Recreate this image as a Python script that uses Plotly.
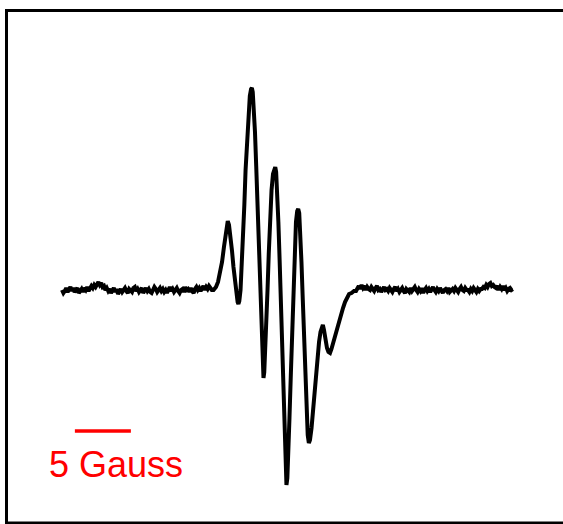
import numpy as np
import plotly.graph_objects as go

# EPR derivative spectrum, field given as offset in gauss, signal in arbitrary units

# flat, noisy baseline on the low-field side (0.125 G sampling)
left_field = np.arange(0.0, 13.38, 0.125)
left_signal = [
    0.5, -1.0, 0.0, 1.5, -0.5, 1.0, 2.0, 0.0, 1.5, -0.5,
    0.5, 1.5, -1.0, 0.0, 1.0, -0.5, 1.5, 0.5, 2.0, 0.0,
    1.0, 2.5, 1.5, 3.0, 2.0, 3.5, 4.5, 3.0, 4.0, 2.0,
    2.5, 0.5, 1.5, 0.0, 1.0, -1.0, 0.5, 1.5, -0.5, 1.0,
    -1.5, 0.0, 1.0, -0.5, 0.5, 1.5, 0.0, -1.0, 1.0, 0.5,
    -0.5, 1.5, 2.0, 0.0, 1.0, -0.5, 0.5, 1.5, -1.0, 0.0,
    1.5, 0.0, 1.0, -0.5, -1.0, 0.5, 2.0, 1.0, -0.5, 0.5,
    1.5, 0.0, 1.0, -0.5, 0.5, -1.0, 1.0, 2.0, 0.0, 1.0,
    -0.5, 0.5, 1.5, 0.0, -1.0, 0.5, 1.0, -0.5, 2.0, 0.5,
    1.0, -0.5, 1.5, 0.0, -1.0, 1.0, 2.0, 0.5, 1.5, 0.0,
    1.5, 2.5, 0.5, 2.0, 1.0, 2.5, 1.5, 0.5,
]

# hyperfine pattern
center_field = [
    13.53, 13.75, 13.93, 14.11, 14.29, 14.46, 14.60, 14.71, 14.80, 14.91,
    15.04, 15.18, 15.31, 15.45, 15.58, 15.68, 15.75, 15.83, 15.94, 16.05,
    16.16, 16.28, 16.39, 16.52, 16.64, 16.77, 16.88, 16.95, 17.03, 17.12,
    17.23, 17.34, 17.45, 17.55, 17.66, 17.77, 17.86, 17.93, 17.99, 18.06,
    18.14, 18.24, 18.35, 18.46, 18.59, 18.71, 18.84, 18.96, 19.04, 19.12,
    19.21, 19.32, 19.43, 19.54, 19.64, 19.75, 19.85, 19.92, 19.98, 20.04,
    20.12, 20.21, 20.31, 20.43, 20.54, 20.66, 20.78, 20.89, 21.00, 21.09,
    21.18, 21.28, 21.38, 21.50, 21.62, 21.73, 21.84, 21.94, 22.04, 22.14,
    22.28, 22.41, 22.54, 22.68, 22.81, 22.95, 23.08, 23.19, 23.29, 23.39,
    23.53, 23.66, 23.79, 23.93, 24.06, 24.20, 24.38, 24.55, 24.73, 24.91,
    25.09, 25.27, 25.45, 25.63, 25.85, 26.07,
]
center_signal = [
    0.5, 2.0, 4.5, 8.5, 14.5, 22.0, 29.0, 33.5, 35.0, 33.0,
    27.5, 20.0, 12.0, 4.0, -2.5, -5.5, -6.5, -5.0, 0.5, 11.5,
    25.5, 43.0, 60.5, 77.0, 89.5, 97.5, 101.0, 101.5, 99.5, 92.5,
    79.5, 62.5, 43.0, 23.0, 3.0, -15.5, -30.5, -40.0, -43.5, -40.5,
    -31.5, -17.0, 0.5, 18.5, 36.5, 50.5, 58.5, 61.5, 62.0, 59.5,
    50.5, 34.5, 15.5, -4.5, -25.5, -47.0, -68.5, -85.5, -94.5, -97.0,
    -93.5, -82.0, -63.5, -42.0, -19.5, 3.0, 21.5, 34.5, 40.0, 41.0,
    39.0, 30.5, 14.5, -4.5, -24.5, -44.5, -61.5, -72.0, -76.0, -74.5,
    -68.5, -59.5, -50.5, -41.5, -33.0, -25.5, -20.5, -17.5, -17.0, -19.5,
    -24.5, -28.5, -30.5, -31.0, -29.0, -26.0, -22.0, -18.5, -15.0, -11.5,
    -8.5, -5.5, -3.0, -1.5, -1.0, 0.0,
]

# flat, noisy baseline on the high-field side
right_field = np.arange(26.25, 40.26, 0.125)
right_signal = [
    0.0, 1.5, 2.5, 1.0, 3.0, 1.5, 2.5, 0.5, 2.0, 1.0,
    0.5, 2.0, 1.0, 0.0, 1.5, 2.5, 0.5, 1.0, -0.5, 1.5,
    2.0, 0.5, 1.0, 0.0, 1.5, 0.5, -0.5, 1.0, 2.0, 0.0,
    1.0, -0.5, 0.5, 1.5, 0.0, -1.0, 1.0, 0.5, -0.5, 1.5,
    0.0, 1.0, 2.0, 0.5, -0.5, 1.0, 0.0, 1.5, -1.0, 0.5,
    1.5, 0.0, 1.0, -0.5, 0.5, 2.0, 0.5, -0.5, 1.0, 0.0,
    1.5, 0.5, -1.0, 0.5, 1.0, 0.0, 1.5, -0.5, 0.5, 1.0,
    0.0, 1.5, 0.5, -0.5, 1.0, 2.0, 0.5, 0.0, 1.5, 0.5,
    0.5, -0.5, 1.0, 0.0, 1.5, 0.5, -0.5, 1.0, 0.0, 1.0,
    1.0, 2.0, 1.5, 3.0, 2.0, 3.5, 4.0, 2.5, 3.0, 2.0,
    1.5, 2.5, 0.5, 2.0, 1.0, 2.5, 0.5, 1.5, 0.0, 1.0,
    1.5, 0.5, 1.0,
]

# scale bar: 5 G
scale_bar_field = [1.15, 6.15]
scale_bar_level = [-70.0, -70.0]
scale_label = "5 Gauss"

field = np.concatenate([left_field, center_field, right_field])
signal = np.concatenate([left_signal, center_signal, right_signal])

fig = go.Figure()
fig.add_trace(go.Scatter(
    x=field, y=signal, mode="lines",
    line=dict(color="black", width=4),
    hoverinfo="skip", showlegend=False,
))
fig.add_trace(go.Scatter(
    x=scale_bar_field, y=scale_bar_level, mode="lines",
    line=dict(color="#ff0000", width=3.5),
    hoverinfo="skip", showlegend=False,
))
fig.add_annotation(
    x=4.8, y=-86.5, xref="x", yref="y",
    text=scale_label, showarrow=False,
    xanchor="center", yanchor="middle",
    font=dict(family="Liberation Sans, Arial, sans-serif", size=36, color="#ff0000"),
)

# open frame around the spectrum
fig.add_shape(
    type="rect", xref="paper", yref="paper",
    x0=6.5 / 563, x1=1.05, y0=1.0 / 524, y1=(524 - 10.5) / 524,
    line=dict(color="black", width=3), fillcolor="rgba(0,0,0,0)",
    layer="above",
)

fig.update_layout(
    width=563, height=524,
    margin=dict(l=0, r=0, t=0, b=0),
    paper_bgcolor="white", plot_bgcolor="white",
    xaxis=dict(range=[-62 / 11.2, 501 / 11.2], visible=False, fixedrange=True),
    yaxis=dict(range=[-116.5, 145.5], visible=False, fixedrange=True),
    showlegend=False,
)

fig.write_html("out.html")
